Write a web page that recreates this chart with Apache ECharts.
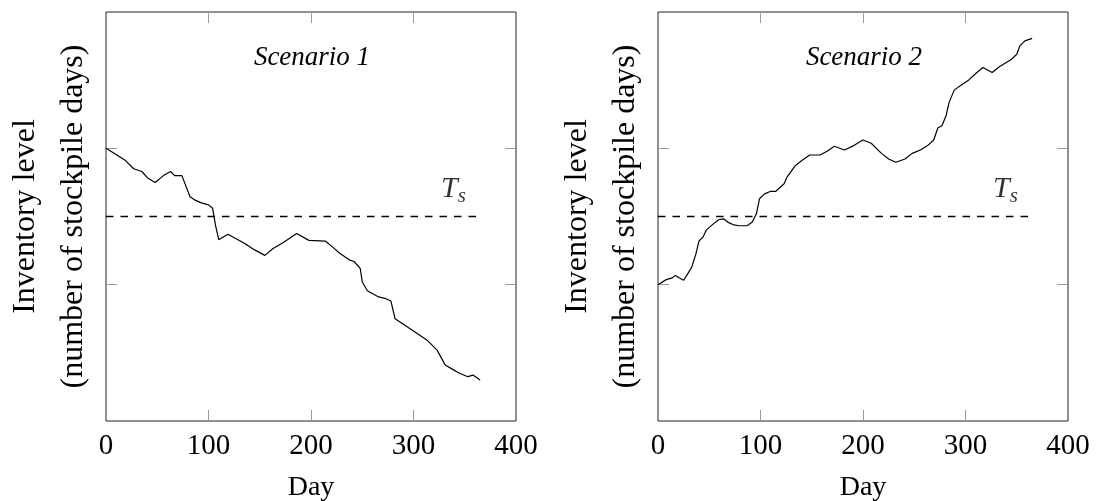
<!DOCTYPE html>
<html>
<head>
<meta charset="utf-8">
<title>Inventory level scenarios</title>
<script src="https://cdn.jsdelivr.net/npm/echarts@6/dist/echarts.min.js"></script>
<style>
  html, body { margin: 0; padding: 0; background: #fff; }
  #chart { width: 1096px; height: 501px; }
</style>
</head>
<body>
<div id="chart"></div>
<script>
// Scenario 1: inventory drifts downward over the year
const days1 = [0, 11, 19, 27, 35, 41, 48, 56, 63, 67, 74, 82, 87, 93, 100, 104, 107, 110,
  119, 126, 131, 138, 145, 155, 163, 173, 186, 198, 214, 222, 228, 238, 242, 248, 250,
  255, 266, 272, 278, 282, 292, 301, 313, 323, 331, 339, 345, 353, 358, 365];
const level1 = [2.00, 1.95, 1.91, 1.85, 1.83, 1.78, 1.75, 1.80, 1.83, 1.80, 1.80, 1.645,
  1.62, 1.60, 1.585, 1.56, 1.43, 1.33, 1.37, 1.34, 1.32, 1.29, 1.255, 1.215, 1.265, 1.31,
  1.375, 1.325, 1.32, 1.27, 1.23, 1.18, 1.17, 1.12, 1.02, 0.955, 0.91, 0.90, 0.88, 0.75,
  0.70, 0.655, 0.595, 0.52, 0.41, 0.375, 0.35, 0.325, 0.337, 0.30];

// Scenario 2: inventory builds up over the year
const days2 = [0, 8, 14, 17, 21, 25, 28, 33, 37, 40, 44, 47, 54, 59, 64, 68, 73, 79, 87,
  92, 96, 99, 104, 110, 115, 123, 126, 134, 141, 148, 158, 165, 172, 182, 191, 200, 208,
  218, 225, 232, 241, 248, 256, 263, 269, 273, 277, 281, 284, 289, 298, 303, 310, 317,
  326, 333, 345, 350, 353, 358, 365];
const level2 = [1.00, 1.037, 1.05, 1.068, 1.049, 1.032, 1.068, 1.13, 1.227, 1.32, 1.35,
  1.40, 1.446, 1.476, 1.483, 1.459, 1.441, 1.432, 1.432, 1.459, 1.52, 1.63, 1.666, 1.685,
  1.685, 1.74, 1.79, 1.873, 1.915, 1.951, 1.951, 1.978, 2.015, 1.988, 2.02, 2.061, 2.037,
  1.963, 1.922, 1.898, 1.922, 1.963, 1.988, 2.02, 2.061, 2.149, 2.166, 2.239, 2.337,
  2.427, 2.476, 2.50, 2.549, 2.593, 2.556, 2.598, 2.654, 2.69, 2.751, 2.788, 2.807];

// Target stock level T_s and its extent
const thresholdLevel = 1.5;
const thresholdDays = [0, 365];
const thresholdLabelDay = 339;

const scenarioTitles = ['Scenario 1', 'Scenario 2'];
const xRange = { min: 0, max: 400, interval: 100 };
const yRange = { min: 0, max: 3, interval: 1 };
// tick marks only between the frame edges
const xInnerTicks = [100, 200, 300];
const yInnerTicks = [1, 2];
const xName = 'Day';
const yName = 'Inventory level\n(number of stockpile days)';

const serif = "'Liberation Serif', 'Times New Roman', serif";
const tickStyle = (values) => ({
  show: true, inside: true, length: 11, customValues: values,
  lineStyle: { color: '#9a9a9a', width: 1 }
});
// frame is drawn by the grid; axes stay on their own side of it
const hiddenLine = { show: false, onZero: false };

const zip = (xs, ys) => xs.map((x, i) => [x, ys[i]]);

const grids = [
  { left: 106, top: 12, width: 410, height: 409 },
  { left: 658, top: 12, width: 410, height: 409 }
];

const xAxes = [], yAxes = [], series = [], titles = [];
const panels = [zip(days1, level1), zip(days2, level2)];

grids.forEach((g, i) => {
  // bottom axis with labels, mirrored ticks on top
  xAxes.push({
    gridIndex: i, type: 'value', position: 'bottom', ...xRange,
    axisLine: hiddenLine, splitLine: { show: false }, axisTick: tickStyle(xInnerTicks),
    axisLabel: { color: '#000', fontFamily: serif, fontSize: 29, margin: 11 },
    name: xName, nameLocation: 'middle', nameGap: 53,
    nameTextStyle: { color: '#000', fontFamily: serif, fontSize: 28 }
  });
  xAxes.push({
    gridIndex: i, type: 'value', position: 'top', ...xRange,
    axisLine: hiddenLine, splitLine: { show: false }, axisTick: tickStyle(xInnerTicks),
    axisLabel: { show: false }
  });
  // left axis with the title, mirrored ticks on the right
  yAxes.push({
    gridIndex: i, type: 'value', position: 'left', ...yRange,
    axisLine: hiddenLine, splitLine: { show: false }, axisTick: tickStyle(yInnerTicks),
    axisLabel: { show: false },
    name: yName, nameLocation: 'middle', nameRotate: 90, nameGap: 8,
    nameTextStyle: { color: '#000', fontFamily: serif, fontSize: 32, lineHeight: 48, align: 'center' }
  });
  yAxes.push({
    gridIndex: i, type: 'value', position: 'right', ...yRange,
    axisLine: hiddenLine, splitLine: { show: false }, axisTick: tickStyle(yInnerTicks),
    axisLabel: { show: false }
  });

  series.push({
    type: 'line', xAxisIndex: 2 * i, yAxisIndex: 2 * i,
    data: panels[i], symbol: 'none', smooth: false,
    lineStyle: { color: '#000', width: 1.2 }
  });
  series.push({
    type: 'line', xAxisIndex: 2 * i, yAxisIndex: 2 * i,
    data: thresholdDays.map(d => [d, thresholdLevel]), symbol: 'none',
    lineStyle: { color: '#000', width: 1.3, type: [7.5, 7] }
  });
  series.push({
    type: 'scatter', xAxisIndex: 2 * i, yAxisIndex: 2 * i,
    data: [[thresholdLabelDay, thresholdLevel]], symbolSize: 0, silent: true,
    label: {
      show: true, position: 'top', distance: 10,
      formatter: '{t|T}{s|s}',
      rich: {
        t: { fontFamily: serif, fontStyle: 'italic', fontSize: 30, color: '#000' },
        s: { fontFamily: serif, fontStyle: 'italic', fontSize: 21, color: '#000', padding: [13, 0, 0, 0] }
      }
    }
  });

  titles.push({
    text: scenarioTitles[i], left: g.left + g.width * 0.5 - 4, top: 39, textAlign: 'center',
    textStyle: { fontFamily: serif, fontStyle: 'italic', fontWeight: 'normal', fontSize: 27, color: '#000' }
  });
});

const chart = echarts.init(document.getElementById('chart'), null, { renderer: 'canvas' });
chart.setOption({
  animation: false,
  backgroundColor: '#fff',
  title: titles,
  grid: grids.map(g => ({
    ...g, show: true, borderColor: '#222', borderWidth: 1, backgroundColor: 'transparent',
    outerBoundsMode: 'none', containLabel: false
  })),
  xAxis: xAxes,
  yAxis: yAxes,
  series: series
});
</script>
</body>
</html>
